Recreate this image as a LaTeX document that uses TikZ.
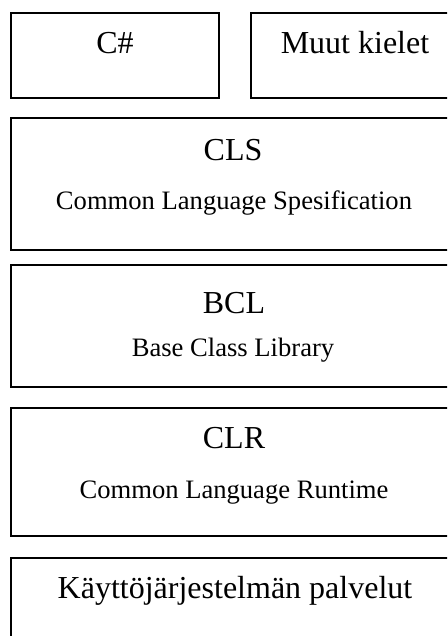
\documentclass[tikz,border=0pt]{standalone}
\usepackage{fontspec}
\setmainfont{Liberation Serif}
\begin{document}
\begin{tikzpicture}[x=1pt,y=-1pt,
  layer/.style={draw=black, line width=2pt, rectangle, anchor=north west, inner sep=0pt, outer sep=0pt},
  title/.style={anchor=base, inner sep=0pt, font=\fontsize{32}{38}\selectfont},
  subtitle/.style={anchor=base, inner sep=0pt, font=\fontsize{26.6}{32}\selectfont}]
\useasboundingbox (0,0) rectangle (447,636);
\clip (0,0) rectangle (447,636);

% language layer
\node[layer, minimum width=208pt, minimum height=85pt] (cs) at (11,13.3) {};
\node[layer, minimum width=208pt, minimum height=85pt] (muut) at (251,13.3) {};
\node[title] (cst) at ([yshift=-40pt]cs.north) {C\#};
\node[title] (muutt) at ([yshift=-40pt]muut.north) {Muut kielet};

% CLS
\node[layer, minimum width=446pt, minimum height=131.7pt] (cls) at (11,118.3) {};
\node[title] (clst) at ([yshift=-42pt,xshift=-1pt]cls.north) {CLS};
\node[subtitle] (clss) at ([yshift=-91pt]cls.north) {Common Language Spesification};

% BCL
\node[layer, minimum width=446pt, minimum height=122pt] (bcl) at (11,264.7) {};
\node[title] (bclt) at ([yshift=-48.5pt]bcl.north) {BCL};
\node[subtitle] (bcls) at ([yshift=-92pt,xshift=-1pt]bcl.north) {Base Class Library};

% CLR
\node[layer, minimum width=446pt, minimum height=128pt] (clr) at (11,407.7) {};
\node[title] (clrt) at ([yshift=-40.5pt]clr.north) {CLR};
\node[subtitle] (clrs) at ([yshift=-90.5pt]clr.north) {Common Language Runtime};

% operating system services
\node[layer, minimum width=446pt, minimum height=100pt] (os) at (11,558.3) {};
\node[title] (ost) at ([yshift=-40pt,xshift=1pt]os.north) {Käyttöjärjestelmän palvelut};
\end{tikzpicture}
\end{document}
